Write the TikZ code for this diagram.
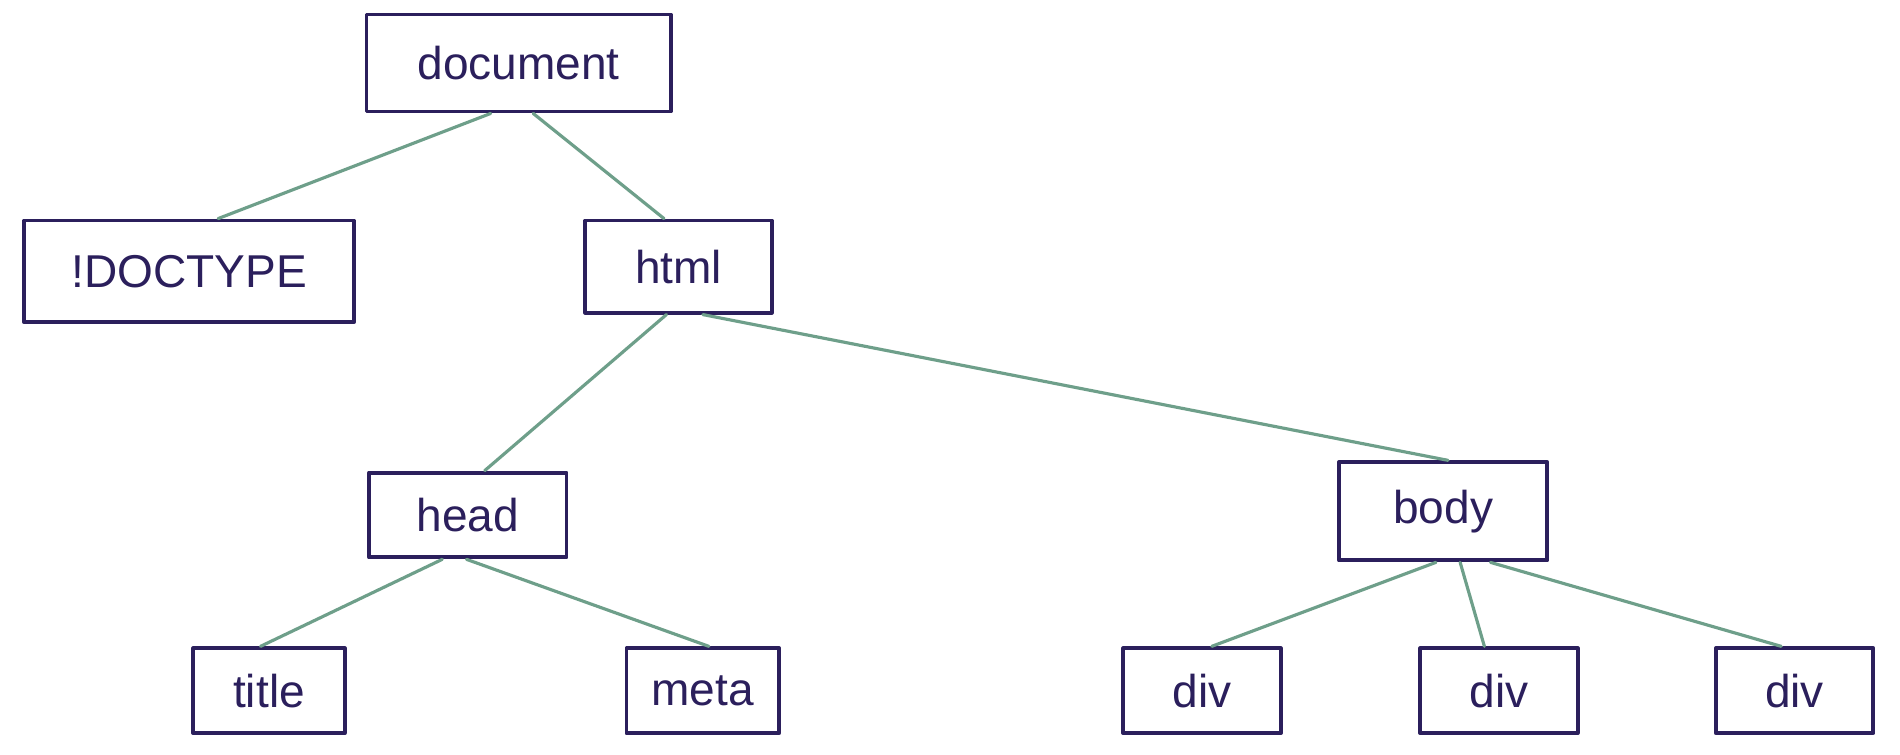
\documentclass[tikz,border=0pt]{standalone}
\usepackage{fontspec}
\setmainfont{Liberation Sans}
\definecolor{boxc}{HTML}{2B1F5C}
\definecolor{edgec}{HTML}{6E9F8A}
\begin{document}
\begin{tikzpicture}[x=1pt,y=-1pt,
  box/.style={draw=boxc,line width=3.2pt,line join=round,text=boxc,font=\fontsize{38}{44}\selectfont,inner sep=0pt,anchor=center},
  edge/.style={draw=edgec,line width=2.6pt,line cap=round}]
\useasboundingbox (0,0) rectangle (1568,623);
\node[box,minimum width=251pt,minimum height=80pt] (doc) at (428,52) {document};
\node[box,minimum width=272pt,minimum height=84pt] (dt) at (156,224) {!DOCTYPE};
\node[box,minimum width=154pt,minimum height=76pt] (html) at (560,220) {html};
\node[box,minimum width=163pt,minimum height=70pt] (head) at (386,425) {head};
\node[box,minimum width=172pt,minimum height=81pt] (body) at (1191,422) {body};
\node[box,minimum width=125pt,minimum height=70pt] (title) at (222,570) {title};
\node[box,minimum width=126pt,minimum height=70pt] (meta) at (580,570) {meta};
\node[box,minimum width=130pt,minimum height=70pt] (d1) at (992,570) {div};
\node[box,minimum width=130pt,minimum height=70pt] (d2) at (1237,570) {div};
\node[box,minimum width=130pt,minimum height=70pt] (d3) at (1481,570) {div};
\begin{scope}[on background layer/.style={}]
\draw[edge] ([xshift=-23pt]doc.south) -- ([xshift=24pt]dt.north);
\draw[edge] ([xshift=12pt]doc.south) -- ([xshift=-12pt]html.north);
\draw[edge] ([xshift=-10pt]html.south) -- ([xshift=14pt]head.north);
\draw[edge] ([xshift=20pt]html.south) -- ([xshift=4pt]body.north);
\draw[edge] ([xshift=-21pt]head.south) -- ([xshift=-7pt]title.north);
\draw[edge] ([xshift=-1pt]head.south) -- ([xshift=5pt]meta.north);
\draw[edge] ([xshift=-6pt]body.south) -- ([xshift=8pt]d1.north);
\draw[edge] ([xshift=14pt]body.south) -- ([xshift=-12pt]d2.north);
\draw[edge] ([xshift=39pt]body.south) -- ([xshift=-11pt]d3.north);
\end{scope}
\end{tikzpicture}
\end{document}
